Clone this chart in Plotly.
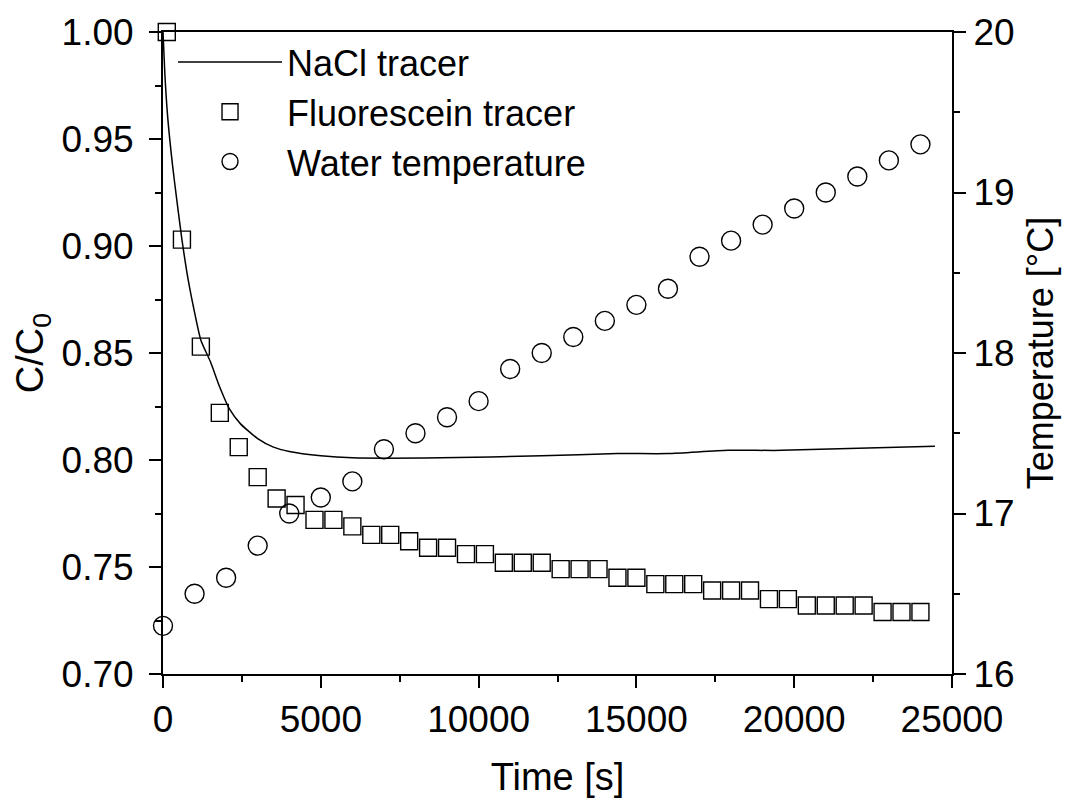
import plotly.graph_objects as go

# NaCl tracer (continuous line)
nacl_t = [0, 60, 150, 300, 450, 600, 800, 1000, 1200, 1500, 1800, 2100, 2450, 3000, 3500,
          4000, 5000, 6000, 8800, 12000, 14400, 16000, 17900, 19600, 24460]
nacl_c = [1.000, 0.980, 0.960, 0.938, 0.920, 0.903, 0.884, 0.869, 0.856, 0.846, 0.834, 0.824,
          0.817, 0.810, 0.806, 0.804, 0.802, 0.801, 0.801, 0.802, 0.803, 0.803, 0.8045, 0.8045, 0.8064]

# Fluorescein tracer (squares)
fluo_t = [120] + list(range(600, 24001, 600))
fluo_c = [1.000, 0.903, 0.853, 0.822, 0.806, 0.792, 0.782, 0.779, 0.772, 0.772,
          0.769, 0.765, 0.765, 0.762, 0.759, 0.759, 0.756, 0.756, 0.752, 0.752,
          0.752, 0.749, 0.749, 0.749, 0.745, 0.745, 0.742, 0.742, 0.742, 0.739,
          0.739, 0.739, 0.735, 0.735, 0.732, 0.732, 0.732, 0.732, 0.729, 0.729, 0.729]

# Water temperature (circles, right axis)
temp_t = list(range(0, 24001, 1000))
temp_v = [16.3, 16.5, 16.6, 16.8, 17.0, 17.1, 17.2, 17.4, 17.5, 17.6, 17.7, 17.9, 18.0,
          18.1, 18.2, 18.3, 18.4, 18.6, 18.7, 18.8, 18.9, 19.0, 19.1, 19.2, 19.3]

x_ticks = [0, 5000, 10000, 15000, 20000, 25000]
y_ticks = [0.70, 0.75, 0.80, 0.85, 0.90, 0.95, 1.00]
y2_ticks = [16, 17, 18, 19, 20]

FONT = "Arial, Liberation Sans, sans-serif"

fig = go.Figure()
fig.add_trace(go.Scatter(x=nacl_t, y=nacl_c, mode="lines", name="NaCl tracer",
                         line=dict(color="black", width=1.5, shape="spline", smoothing=0.6)))
fig.add_trace(go.Scatter(x=fluo_t, y=fluo_c, mode="markers", name="Fluorescein tracer",
                         marker=dict(symbol="square-open", size=17, color="black",
                                     line=dict(width=1.4, color="black")),
                         cliponaxis=False))
fig.add_trace(go.Scatter(x=temp_t, y=temp_v, mode="markers", name="Water temperature",
                         yaxis="y2",
                         marker=dict(symbol="circle-open", size=19, color="black",
                                     line=dict(width=1.4, color="black")),
                         cliponaxis=False))

tickfont = dict(family=FONT, size=37, color="black")

fig.update_layout(
    width=1066, height=798,
    margin=dict(l=163, r=114, t=32, b=124),
    paper_bgcolor="white", plot_bgcolor="white",
    showlegend=True,
    legend=dict(x=0.0127, y=1.0, xanchor="left", yanchor="top",
                bgcolor="rgba(0,0,0,0)", font=dict(family=FONT, size=36, color="black"),
                itemwidth=104, tracegroupgap=0, itemsizing="trace"),
    xaxis=dict(range=[0, 25000], tickvals=x_ticks, tickformat="d", automargin=False,
               ticks="outside", ticklen=12, tickwidth=2, tickcolor="black",
               showline=True, linewidth=2, linecolor="black", mirror=True,
               showgrid=False, zeroline=False, tickfont=tickfont,
               minor=dict(dtick=2500, ticks="outside", ticklen=6, tickwidth=2, tickcolor="black"),
               title=dict(text="Time [s]", font=dict(family=FONT, size=38, color="black"), standoff=24)),
    yaxis=dict(range=[0.70, 1.00], tickvals=y_ticks, automargin=False,
               tickformat=".2f", ticklabelstandoff=8,
               ticks="outside", ticklen=12, tickwidth=2, tickcolor="black",
               showline=True, linewidth=2, linecolor="black",
               showgrid=False, zeroline=False, tickfont=tickfont,
               minor=dict(dtick=0.025, ticks="outside", ticklen=6, tickwidth=2, tickcolor="black"),
               title=dict(text="C/C<sub>0</sub>", font=dict(family=FONT, size=38, color="black"), standoff=6)),
    yaxis2=dict(range=[16, 20], tickvals=y2_ticks, overlaying="y", side="right", automargin=False,
                ticks="outside", ticklen=12, tickwidth=2, tickcolor="black",
                showline=True, linewidth=2, linecolor="black",
                showgrid=False, zeroline=False, tickfont=tickfont,
                minor=dict(dtick=0.5, ticks="outside", ticklen=6, tickwidth=2, tickcolor="black"),
                title=dict(text="Temperature [°C]", font=dict(family=FONT, size=36, color="black"), standoff=14)),
)

fig.write_html("out.html")
